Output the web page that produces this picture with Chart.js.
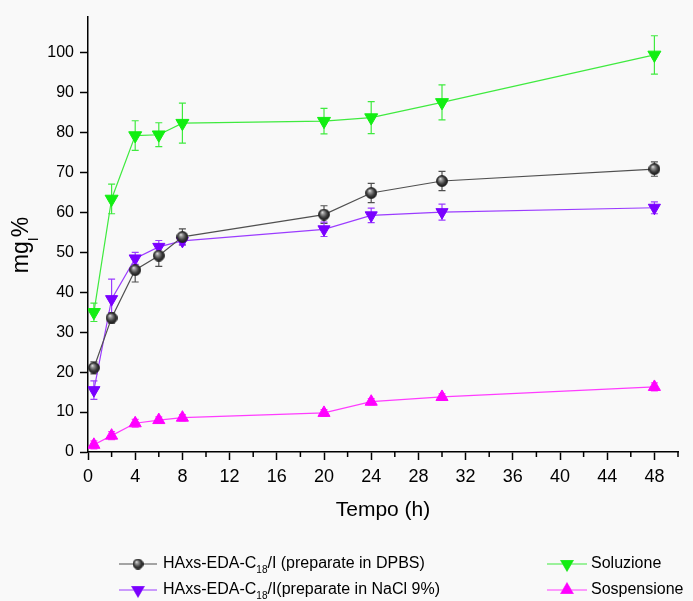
<!DOCTYPE html>
<html>
<head>
<meta charset="utf-8">
<script src="https://cdn.jsdelivr.net/npm/chart.js@4.4.1/dist/chart.umd.min.js"></script>
<style>
  html, body { margin: 0; padding: 0; background: #f9f9f9; }
  canvas { display: block; }
</style>
</head>
<body>
<canvas id="chart" width="693" height="601"></canvas>
<script>
// Sampling times (h)
const hours = [0.5, 2, 4, 6, 8, 20, 24, 30, 48];

// Released amount (mg_I %) and standard deviations for each formulation
const dpbs      = [21.1, 33.6, 45.6, 49.2, 53.9, 59.5, 64.9, 67.9, 70.9];
const dpbsErr   = [1.5, 1.3, 3.0, 2.7, 2.0, 2.2, 2.4, 2.4, 1.8];
const nacl      = [15.5, 38.3, 48.5, 51.4, 52.9, 55.8, 59.3, 60.1, 61.2];
const naclErr   = [2.3, 5.0, 1.5, 1.6, 1.0, 1.8, 1.8, 2.0, 1.5];
const soluz     = [35.0, 63.4, 79.3, 79.5, 82.4, 82.9, 83.8, 87.6, 99.5];
const soluzErr  = [2.3, 3.7, 3.7, 3.0, 5.0, 3.2, 4.0, 4.4, 4.8];
const sosp      = [1.8, 4.1, 7.2, 8.0, 8.6, 9.8, 12.6, 13.8, 16.3];
const sospErr   = [1.0, 1.0, 1.0, 0.8, 0.8, 0.8, 0.8, 0.8, 1.0];

// Axis ticks
const xTicks = [0, 2, 4, 6, 8, 10, 12, 14, 16, 18, 20, 22, 24, 26, 28, 30, 32, 34, 36, 38, 40, 42, 44, 46, 48, 50];
const xLabelled = [0, 4, 8, 12, 16, 20, 24, 28, 32, 36, 40, 44, 48];
const yTicks = [0, 10, 20, 30, 40, 50, 60, 70, 80, 90, 100];

const FONT = '"Liberation Sans", Arial, sans-serif';

// Shaded sphere marker
function makeSphere(d) {
  const c = document.createElement('canvas');
  c.width = d; c.height = d;
  const g = c.getContext('2d');
  const r = d / 2;
  const grad = g.createRadialGradient(r * 0.7, r * 0.6, 0, r, r, r);
  grad.addColorStop(0, '#eeeeee');
  grad.addColorStop(0.25, '#9a9a9a');
  grad.addColorStop(0.65, '#3c3c3c');
  grad.addColorStop(1, '#151515');
  g.fillStyle = grad;
  g.beginPath(); g.arc(r, r, r - 0.5, 0, Math.PI * 2); g.fill();
  g.strokeStyle = '#222'; g.lineWidth = 0.8; g.stroke();
  return c;
}
const sphere = makeSphere(12);

function pts(vals) { return hours.map((h, i) => ({ x: h, y: vals[i] })); }

const series = [
  { label: ['HAxs-EDA-C', '18', '/I (preparate in DPBS)'], data: dpbs, err: dpbsErr,
    line: '#505050', fill: '#333333', style: sphere, rot: 0, radius: 6 },
  { label: ['HAxs-EDA-C', '18', '/I(preparate in NaCl 9%)'], data: nacl, err: naclErr,
    line: '#9b3cff', fill: '#7a00ff', style: 'triangle', rot: 180, radius: 7 },
  { label: ['Soluzione'], data: soluz, err: soluzErr,
    line: '#3fea3f', fill: '#12ee12', style: 'triangle', rot: 180, radius: 7.5 },
  { label: ['Sospensione'], data: sosp, err: sospErr,
    line: '#ff3cff', fill: '#ff00ff', style: 'triangle', rot: 0, radius: 7 }
];

// Draw text with an optional subscript part: [before, sub, after]
function drawRich(ctx, parts, x, y, size) {
  ctx.font = size + 'px ' + FONT;
  ctx.fillText(parts[0], x, y);
  let w = ctx.measureText(parts[0]).width;
  if (parts.length > 1) {
    ctx.font = Math.round(size * 0.62) + 'px ' + FONT;
    ctx.fillText(parts[1], x + w, y + size * 0.42);
    w += ctx.measureText(parts[1]).width;
    ctx.font = size + 'px ' + FONT;
    ctx.fillText(parts[2], x + w, y);
  }
}

const errorBars = {
  id: 'errorBars',
  beforeDatasetsDraw(chart) {
    const { ctx, scales: { x, y } } = chart;
    ctx.save();
    series.forEach(s => {
      ctx.strokeStyle = s.line;
      ctx.lineWidth = 1.2;
      hours.forEach((h, i) => {
        const px = x.getPixelForValue(h);
        const top = y.getPixelForValue(s.data[i] + s.err[i]);
        const bot = y.getPixelForValue(s.data[i] - s.err[i]);
        ctx.beginPath();
        ctx.moveTo(px, top); ctx.lineTo(px, bot);
        ctx.moveTo(px - 3.5, top); ctx.lineTo(px + 3.5, top);
        ctx.moveTo(px - 3.5, bot); ctx.lineTo(px + 3.5, bot);
        ctx.stroke();
      });
    });
    ctx.restore();
  }
};

const decorations = {
  id: 'decorations',
  afterDraw(chart) {
    const { ctx, scales: { x, y }, chartArea } = chart;
    ctx.save();
    // minor ticks on the time axis
    ctx.strokeStyle = '#000';
    ctx.lineWidth = 1.5;
    xTicks.forEach(v => {
      if (xLabelled.includes(v)) return;
      const px = x.getPixelForValue(v);
      ctx.beginPath();
      ctx.moveTo(px, chartArea.bottom); ctx.lineTo(px, chartArea.bottom + 5);
      ctx.stroke();
    });

    ctx.fillStyle = '#000';
    // x axis title
    ctx.font = '21px ' + FONT;
    ctx.textAlign = 'center';
    ctx.textBaseline = 'middle';
    ctx.fillText('Tempo (h)', (chartArea.left + chartArea.right) / 2, 510);

    // y axis title (rotated, with subscript)
    ctx.save();
    ctx.translate(28, 245);
    ctx.rotate(-Math.PI / 2);
    ctx.textAlign = 'left';
    ctx.textBaseline = 'alphabetic';
    ctx.font = '23px ' + FONT;
    const wMg = ctx.measureText('mg').width;
    ctx.font = '14px ' + FONT;
    const wI = ctx.measureText('I').width;
    ctx.font = '23px ' + FONT;
    const wP = ctx.measureText('%').width;
    const total = wMg + wI + wP;
    drawRich(ctx, ['mg', 'I', '%'], -total / 2, 0, 23);
    ctx.restore();

    // legend
    const slots = [
      { x0: 119, x1: 157, tx: 163, y: 564 },
      { x0: 119, x1: 157, tx: 163, y: 590 },
      { x0: 547, x1: 587, tx: 591, y: 564 },
      { x0: 547, x1: 587, tx: 591, y: 590 }
    ];
    series.forEach((s, i) => {
      const sl = slots[i];
      ctx.strokeStyle = s.line;
      ctx.lineWidth = 1.2;
      ctx.beginPath(); ctx.moveTo(sl.x0, sl.y); ctx.lineTo(sl.x1, sl.y); ctx.stroke();
      const mx = (sl.x0 + sl.x1) / 2;
      if (s.style === sphere) {
        ctx.drawImage(sphere, mx - 5.5, sl.y - 5.5, 11, 11);
      } else {
        Chart.helpers.drawPoint(ctx, {
          pointStyle: 'triangle', rotation: s.rot, radius: 7, borderWidth: 1
        }, mx, sl.y);
        ctx.fillStyle = s.fill;
        ctx.fill();
      }
      ctx.fillStyle = '#000';
      ctx.textAlign = 'left';
      ctx.textBaseline = 'middle';
      drawRich(ctx, s.label, sl.tx, sl.y, 16);
    });
    ctx.restore();
  }
};

new Chart(document.getElementById('chart'), {
  type: 'line',
  data: {
    datasets: series.map(s => ({
      label: s.label.join(''),
      data: pts(s.data),
      borderColor: s.line,
      borderWidth: 1.2,
      backgroundColor: s.fill,
      pointBackgroundColor: s.fill,
      pointBorderColor: s.fill,
      pointBorderWidth: 1,
      pointStyle: s.style,
      pointRotation: s.rot,
      pointRadius: s.radius,
      tension: 0,
      fill: false
    }))
  },
  options: {
    responsive: false,
    animation: false,
    events: [],
    layout: { padding: { top: 17, right: 15, left: 0, bottom: 0 } },
    plugins: { legend: { display: false }, tooltip: { enabled: false } },
    scales: {
      x: {
        type: 'linear',
        min: 0, max: 50,
        afterBuildTicks: sc => { sc.ticks = xTicks.map(v => ({ value: v })); },
        afterFit: sc => { sc.height = 149; },
        ticks: {
          autoSkip: false, maxRotation: 0, padding: 6,
          color: '#000', font: { family: FONT, size: 18 },
          callback: v => (xLabelled.includes(v) ? String(v) : '')
        },
        grid: {
          display: true, drawOnChartArea: false, drawTicks: true, tickLength: 8, tickWidth: 1.5,
          tickColor: c => (c.tick && xLabelled.includes(c.tick.value) ? '#000' : 'rgba(0,0,0,0)')
        },
        border: { display: true, color: '#000', width: 1.5 }
      },
      y: {
        type: 'linear',
        min: 0, max: 109,
        afterBuildTicks: sc => { sc.ticks = yTicks.map(v => ({ value: v })); },
        afterFit: sc => { sc.width = 88; },
        ticks: {
          autoSkip: false, padding: 6,
          color: '#000', font: { family: FONT, size: 16 }
        },
        grid: {
          display: true, drawOnChartArea: false, drawTicks: true, tickLength: 8, tickWidth: 1.5,
          tickColor: '#000'
        },
        border: { display: true, color: '#000', width: 1.5 }
      }
    }
  },
  plugins: [errorBars, decorations]
});
</script>
</body>
</html>
